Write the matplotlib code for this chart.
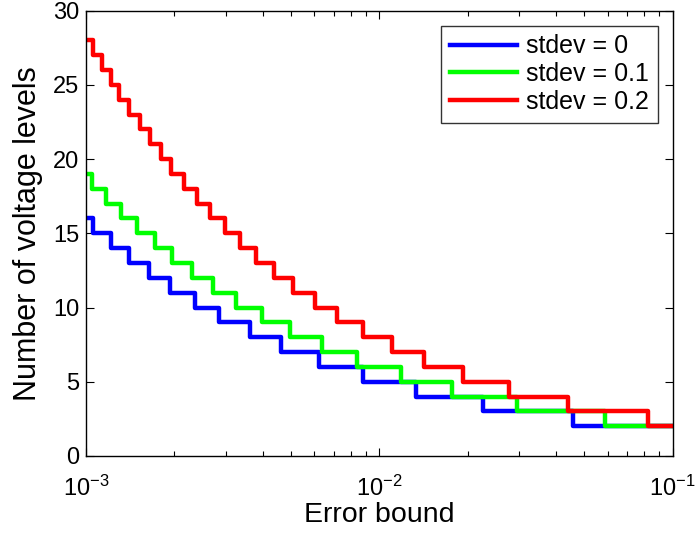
import numpy as np
import matplotlib
matplotlib.use("Agg")
import matplotlib.pyplot as plt

plt.rcParams['font.family'] = ['Liberation Sans', 'DejaVu Sans']
plt.rcParams['mathtext.fontset'] = 'custom'
plt.rcParams['mathtext.rm'] = 'Liberation Sans'
plt.rcParams['mathtext.it'] = 'Liberation Sans:italic'
plt.rcParams['mathtext.bf'] = 'Liberation Sans:bold'

# Breakpoints (error bound where the level count drops) and level values
blue_x = [1.0e-3, 1.054e-3, 1.213e-3, 1.406e-3, 1.633e-3, 1.936e-3, 2.344e-3,
          2.831e-3, 3.614e-3, 4.634e-3, 6.223e-3, 8.770e-3, 1.334e-2, 2.259e-2,
          4.581e-2, 1.0e-1]
blue_y = [16, 15, 14, 13, 12, 11, 10, 9, 8, 7, 6, 5, 4, 3, 2, 2]

green_x = [1.0e-3, 1.052e-3, 1.172e-3, 1.321e-3, 1.496e-3, 1.714e-3, 1.968e-3,
           2.301e-3, 2.704e-3, 3.258e-3, 3.990e-3, 4.977e-3, 6.353e-3, 8.395e-3,
           1.183e-2, 1.770e-2, 2.938e-2, 5.888e-2, 1.0e-1]
green_y = [19, 18, 17, 16, 15, 14, 13, 12, 11, 10, 9, 8, 7, 6, 5, 4, 3, 2, 2]

red_x = [1.0e-3, 1.054e-3, 1.130e-3, 1.213e-3, 1.300e-3, 1.406e-3, 1.524e-3,
         1.648e-3, 1.795e-3, 1.954e-3, 2.153e-3, 2.382e-3, 2.642e-3, 2.972e-3,
         3.342e-3, 3.793e-3, 4.365e-3, 5.070e-3, 6.026e-3, 7.145e-3, 8.810e-3,
         1.102e-2, 1.419e-2, 1.932e-2, 2.773e-2, 4.406e-2, 8.222e-2, 1.0e-1]
red_y = [28, 27, 26, 25, 24, 23, 22, 21, 20, 19, 18, 17, 16, 15, 14, 13, 12,
         11, 10, 9, 8, 7, 6, 5, 4, 3, 2, 2]

labels = ['stdev = 0', 'stdev = 0.1', 'stdev = 0.2']
colors = ['#0000ff', '#00ff00', '#ff0000']

fig = plt.figure(figsize=(6.96, 5.33), dpi=100)
ax = fig.add_axes([0.1236, 0.1445, 0.9665 - 0.1236, 0.98 - 0.1445])

for xs, ys, lab, c in zip([blue_x, green_x, red_x], [blue_y, green_y, red_y], labels, colors):
    ax.step(xs, ys, where='post', color=c, lw=3.2, label=lab)

ax.set_xscale('log')
ax.set_xlim(1e-3, 1e-1)
ax.set_ylim(0, 30)
ax.set_yticks([0, 5, 10, 15, 20, 25, 30])

ax.tick_params(which='both', direction='in', top=True, right=True, labelsize=17, width=0.8)
ax.tick_params(which='major', length=6)
ax.tick_params(which='minor', length=3.5)
ax.tick_params(axis='x', which='major', pad=14)
ax.tick_params(axis='y', which='major', pad=5)
for s in ax.spines.values():
    s.set_linewidth(1.0)

ax.set_xlabel('Error bound', fontsize=20.5, labelpad=1)
ax.set_ylabel('Number of voltage levels', fontsize=22, labelpad=7)

leg = ax.legend(loc='upper right', fontsize=18, frameon=True, fancybox=False,
                edgecolor='black', handlelength=2.7, handletextpad=0.35,
                borderpad=0.35, labelspacing=0.15, borderaxespad=0.6)
leg.get_frame().set_linewidth(1.0)
for l in leg.get_lines():
    l.set_linewidth(3.2)

fig.savefig('out.png', dpi=100)
